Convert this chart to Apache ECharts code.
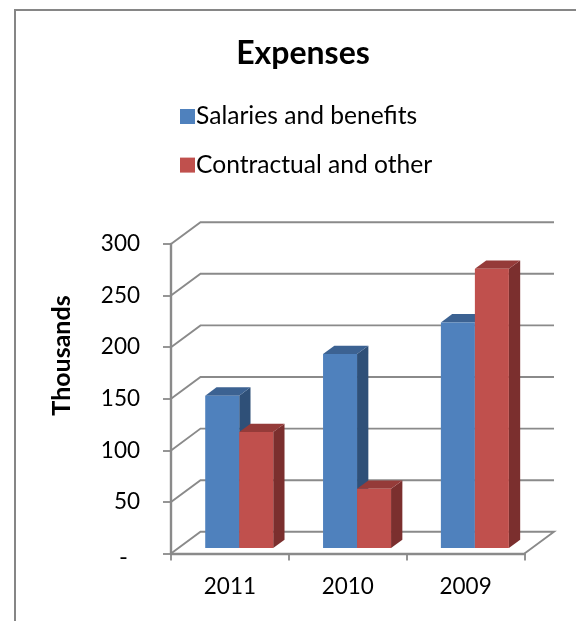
<!DOCTYPE html>
<html>
<head>
<meta charset="utf-8">
<style>html,body{margin:0;padding:0;background:#fff}#c{width:576px;height:621px}</style>
<script src="https://cdn.jsdelivr.net/npm/echarts@6/dist/echarts.min.js"></script>
</head>
<body>
<div id="c"></div>
<script>
const categories = ['2011', '2010', '2009'];
const salaries = [147.7, 188, 218.7];
const contractual = [112.5, 57.4, 270.6];
const yTicks = [0, 50, 100, 150, 200, 250, 300];

const FONT = 'Lato';
const AXIS_GREY = '#8a8a8a';

// Pseudo-3D geometry, in pixels
const WALL_DX = 29.5, WALL_DY = -21.8; // depth of the back wall
const BAR_DX = 9.3, BAR_DY = -5.5;     // front face of bars sits this far behind the axis
const SIDE_DX = 11.3, SIDE_DY = -8.3;  // visible depth of each bar
const BAR_W = 34;

function poly(points, fill) {
  return { type: 'polygon', shape: { points }, style: { fill, stroke: null } };
}

// One bar: front face, top face and right side. offset -1 or 0 places it left or right of centre.
function barRenderer(offset, front, top, side) {
  return function (params, api) {
    const centre = api.coord([api.value(0), api.value(1)]);
    const base = api.coord([api.value(0), 0]);
    const x0 = centre[0] + BAR_DX + offset * BAR_W;
    const x1 = x0 + BAR_W;
    const yt = centre[1] + BAR_DY;
    const yb = base[1] + BAR_DY;
    return {
      type: 'group',
      children: [
        poly([[x1, yt], [x1 + SIDE_DX, yt + SIDE_DY], [x1 + SIDE_DX, yb + SIDE_DY], [x1, yb]], side),
        poly([[x0, yt], [x0 + SIDE_DX, yt + SIDE_DY], [x1 + SIDE_DX, yt + SIDE_DY], [x1, yt]], top),
        {
          type: 'rect',
          shape: { x: x0, y: yt, width: BAR_W, height: yb - yt },
          style: { fill: front, stroke: null }
        }
      ]
    };
  };
}

// Gridlines on the side and back walls; the zero line also closes the floor.
function wallRenderer(params, api) {
  const sys = params.coordSys;
  const y = api.coord([0, api.value(1)])[1];
  const left = sys.x, right = sys.x + sys.width;
  const pts = [[left, y], [left + WALL_DX, y + WALL_DY], [right + WALL_DX, y + WALL_DY]];
  if (api.value(1) === 0) pts.push([right, y]);
  return {
    type: 'polyline',
    shape: { points: pts },
    style: { fill: null, stroke: AXIS_GREY, lineWidth: 1.9 }
  };
}

const chart = echarts.init(document.getElementById('c'), null, { renderer: 'canvas' });
chart.setOption({
  animation: false,
  backgroundColor: '#fff',
  title: {
    text: 'Expenses',
    left: 298,
    top: 33,
    textAlign: 'center',
    textStyle: { fontFamily: FONT, fontSize: 32, fontWeight: 'bold', color: '#000' }
  },
  legend: {
    orient: 'vertical',
    left: 175,
    top: 99,
    itemWidth: 15,
    itemHeight: 15,
    itemGap: 23.6,
    icon: 'rect',
    data: ['Salaries and benefits', 'Contractual and other'],
    textStyle: { fontFamily: FONT, fontSize: 24.6, color: '#000', padding: [0, 0, 0, -4] }
  },
  grid: { left: 171, top: 244, width: 353.5, height: 309.6 },
  xAxis: {
    type: 'category',
    data: categories,
    axisLine: { lineStyle: { color: AXIS_GREY, width: 2.4 } },
    axisTick: { show: true, length: 7, alignWithLabel: false, lineStyle: { color: AXIS_GREY, width: 1.8 } },
    axisLabel: { fontFamily: FONT, fontSize: 22.5, color: '#000', margin: 22 }
  },
  yAxis: {
    type: 'value',
    min: 0,
    max: 300,
    interval: 50,
    splitLine: { show: false },
    axisLine: { show: true, lineStyle: { color: AXIS_GREY, width: 2.4 } },
    axisTick: { show: true, length: 8, lineStyle: { color: AXIS_GREY, width: 1.8 } },
    axisLabel: {
      fontFamily: FONT, fontSize: 22.5, color: '#000', margin: 31,
      // accounting-style zero: the dash stays left of the digit column
      formatter: v => (v === 0 ? '{zero|-}' : String(v)),
      rich: { zero: { fontFamily: FONT, fontSize: 24, color: '#000', padding: [8, 12, 0, 0] } }
    }
  },
  graphic: [
    { type: 'line', silent: true, shape: { x1: 15, y1: 10, x2: 576, y2: 10 }, style: { stroke: '#868686', lineWidth: 2 } },
    { type: 'line', silent: true, shape: { x1: 15, y1: 9, x2: 15, y2: 621 }, style: { stroke: '#868686', lineWidth: 2 } },
    {
      type: 'text',
      silent: true,
      x: 62, y: 355.5,
      rotation: Math.PI / 2,
      style: {
        text: 'Thousands',
        fontFamily: FONT, fontSize: 25, fontWeight: 'bold', fill: '#000',
        align: 'center', verticalAlign: 'middle'
      }
    }
  ],
  series: [
    {
      type: 'custom',
      name: 'walls',
      silent: true,
      renderItem: wallRenderer,
      data: yTicks.map(t => [0, t]),
      z: 1
    },
    {
      type: 'custom',
      name: 'Salaries and benefits',
      renderItem: barRenderer(-1, '#4F81BD', '#3C6292', '#2F5078'),
      itemStyle: { color: '#4F81BD' },
      encode: { x: 0, y: 1 },
      data: categories.map((c, i) => [i, salaries[i]]),
      z: 3
    },
    {
      type: 'custom',
      name: 'Contractual and other',
      renderItem: barRenderer(0, '#C0504D', '#953B39', '#7B2F2E'),
      itemStyle: { color: '#C0504D' },
      encode: { x: 0, y: 1 },
      data: categories.map((c, i) => [i, contractual[i]]),
      z: 4
    }
  ]
});
</script>
</body>
</html>
